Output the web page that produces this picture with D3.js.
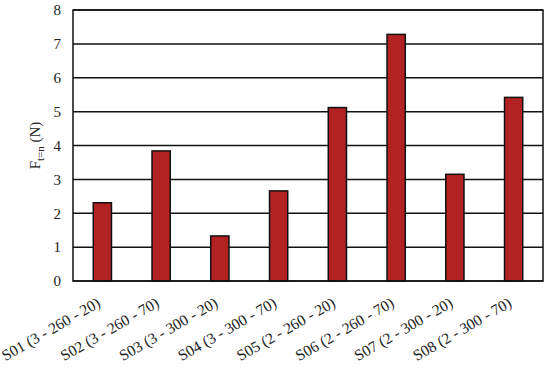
<!DOCTYPE html>
<html>
<head>
<meta charset="utf-8">
<script src="https://cdn.jsdelivr.net/npm/d3@7"></script>
<style>
  body { margin: 0; background: #fff; }
  text { font-family: "Liberation Serif", "DejaVu Serif", serif; fill: #222; }
</style>
</head>
<body>
<svg id="chart" width="550" height="368"></svg>
<script>
// datos
const categories = ["S01 (3 - 260 - 20)", "S02 (3 - 260 - 70)", "S03 (3 - 300 - 20)", "S04 (3 - 300 - 70)",
                    "S05 (2 - 260 - 20)", "S06 (2 - 260 - 70)", "S07 (2 - 300 - 20)", "S08 (2 - 300 - 70)"];
const values = [2.31, 3.84, 1.33, 2.66, 5.12, 7.28, 3.15, 5.42];
const yTicks = [0, 1, 2, 3, 4, 5, 6, 7, 8];

const svg = d3.select("#chart");
const margin = { top: 10, right: 7, bottom: 87, left: 73 };
const width = 550 - margin.left - margin.right;
const height = 368 - margin.top - margin.bottom;

const g = svg.append("g").attr("transform", `translate(${margin.left},${margin.top})`);

const x = d3.scaleBand().domain(categories).range([0, width]).paddingInner(0.69).paddingOuter(0.345);
const y = d3.scaleLinear().domain([0, 8]).range([height, 0]);

// lineas de cuadricula
g.selectAll(".grid")
  .data(yTicks)
  .enter()
  .append("line")
  .attr("x1", 0).attr("x2", width)
  .attr("y1", d => y(d)).attr("y2", d => y(d))
  .attr("stroke", "#111").attr("stroke-width", 1.5);

// barras
g.selectAll(".bar")
  .data(values)
  .enter()
  .append("rect")
  .attr("x", (d, i) => x(categories[i]))
  .attr("y", d => y(d))
  .attr("width", x.bandwidth())
  .attr("height", d => height - y(d))
  .attr("fill", "#b22222")
  .attr("stroke", "#111")
  .attr("stroke-width", 1.5);

// marco
g.append("rect")
  .attr("width", width).attr("height", height)
  .attr("fill", "none").attr("stroke", "#111").attr("stroke-width", 1.5);

// eje y
const yAxis = g.append("g").call(d3.axisLeft(y).tickValues(yTicks).tickSize(0).tickPadding(12));
yAxis.select(".domain").remove();
yAxis.selectAll("text").style("font-size", "15px").attr("fill", "#222");

// eje x
const xAxis = g.append("g").attr("transform", `translate(0,${height})`)
  .call(d3.axisBottom(x).tickSize(0));
xAxis.select(".domain").remove();
xAxis.selectAll("text")
  .style("font-size", "15.5px")
  .attr("fill", "#222")
  .attr("text-anchor", "end")
  .attr("y", 0)
  .attr("dy", "0")
  .attr("transform", "translate(-1,25) rotate(-30)");

// titulo eje y
const yl = svg.append("text")
  .attr("transform", `translate(40,${margin.top + height / 2}) rotate(-90)`)
  .attr("text-anchor", "middle")
  .style("font-size", "15px");
yl.append("tspan").text("F");
yl.append("tspan").attr("dy", 4).style("font-size", "11px").text("t=n");
yl.append("tspan").attr("dy", -4).text(" (N)");
</script>
</body>
</html>
